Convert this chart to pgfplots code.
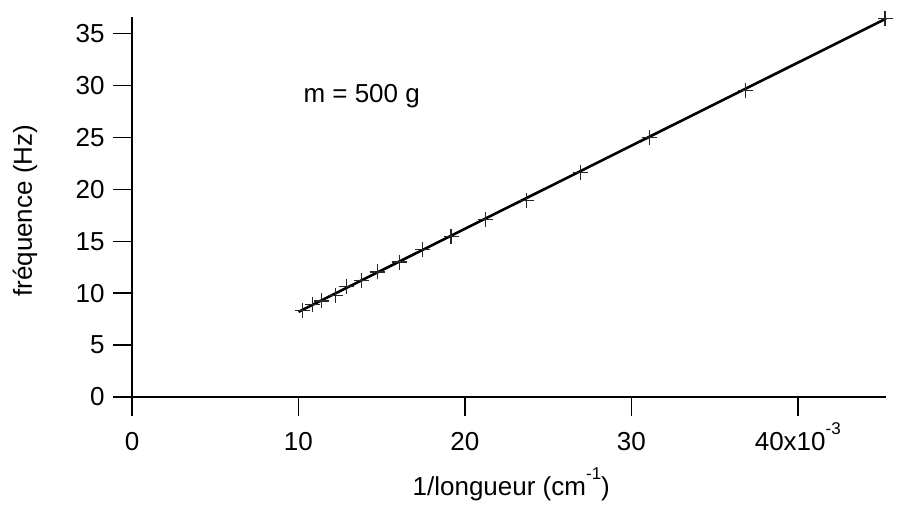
\documentclass[border=0pt]{standalone}
\usepackage{pgfplots}
\pgfplotsset{compat=1.18}
\usepackage{fontspec}
\setmainfont{Liberation Sans}
\newcommand{\bigf}{\fontsize{26bp}{31bp}\selectfont}
\newcommand{\expo}[1]{\raisebox{0.6em}{\fontsize{17bp}{20bp}\selectfont #1}}
\begin{document}
\begin{tikzpicture}
\useasboundingbox (-132bp,-110bp) rectangle (765bp,397bp);
\begin{axis}[
    at={(0,0)}, anchor=south west,
    scale only axis,
    width=754bp, height=380bp,
    xmin=0, xmax=0.0453,
    ymin=0, ymax=36.6,
    axis lines*=left,
    axis line style={line width=1.5bp},
    tick style={line width=1.5bp, black},
    tick align=outside,
    major tick length=19bp,
    xtick={0,0.01,0.02,0.03,0.04},
    xticklabels={0,10,20,30,40x10\expo{-3}},
    scaled x ticks=false,
    ytick={0,5,...,35},
    /pgf/number format/assume math mode=true,
    tick label style={font=\bigf},
    xticklabel style={anchor=base, yshift=-34bp},
    yticklabel style={xshift=-5bp},
    label style={font=\bigf},
    xlabel={1/longueur (cm\expo{-1})},
    ylabel={fréquence (Hz)},
    xlabel style={at={(axis description cs:0.503,-0.258)}, anchor=base},
    ylabel style={at={(axis description cs:-0.142,0.49)}, anchor=center},
    clip=false,
    ]
% ajustement lineaire
\addplot[black, line width=2.6bp, no marks] coordinates {(0.0100,8.20) (0.0453,36.44)};
% mesures
\addplot[only marks, mark=+, mark size=7.5bp, mark options={line width=1.2bp, black!85}]
  coordinates {
  (0.01025,8.35) (0.01083,8.93) (0.01137,9.25) (0.01223,9.80)
  (0.01291,10.66) (0.01377,11.24) (0.01477,12.04) (0.01607,13.00)
  (0.01746,14.20) (0.01917,15.48) (0.02122,17.09) (0.02370,18.95)
  (0.02696,21.62) (0.03111,24.99) (0.03687,29.55) (0.04524,36.45)
  };
\node[font=\bigf, anchor=center] at (axis cs:0.0138,29.0) {m = 500 g};
\end{axis}
\end{tikzpicture}
\end{document}
